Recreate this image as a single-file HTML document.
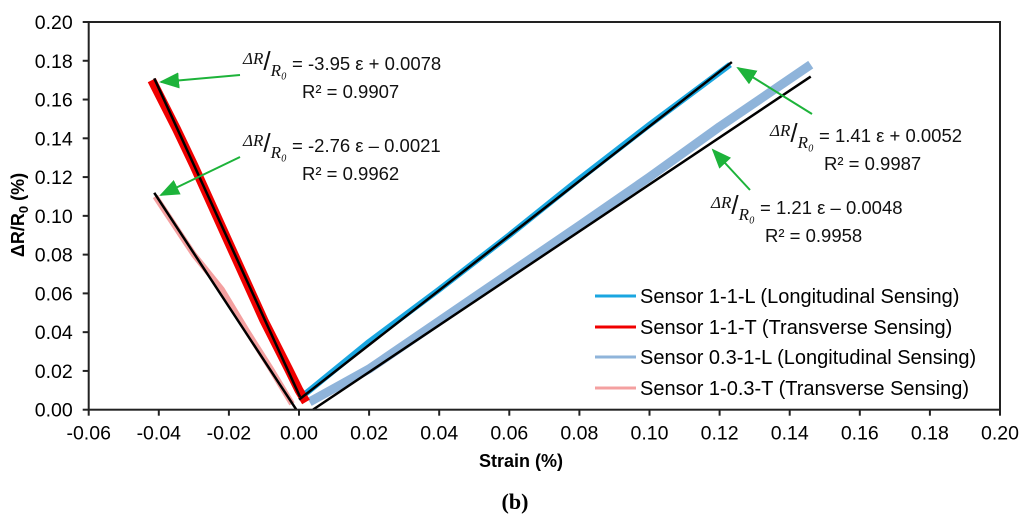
<!DOCTYPE html>
<html><head><meta charset="utf-8"><style>
body{margin:0;background:#fff;}
svg{display:block;font-family:"Liberation Sans",sans-serif;}
</style></head><body>
<svg id="chart" width="1024" height="520">
<defs><marker id="ah" markerWidth="10" markerHeight="8" refX="9" refY="4" orient="auto"><path d="M0,0 L10,4 L0,8 Z" fill="#1db33a"/></marker></defs>
<g id="series"></g>
<g id="fits"></g>
<rect x="88.7" y="22" width="911.3" height="387.7" fill="none" stroke="#222" stroke-width="2"/>
<g id="ticks"></g>
<text x="521" y="467" font-size="18" font-weight="bold" text-anchor="middle">Strain (%)</text>
<text transform="translate(24,215) rotate(-90)" font-size="18" font-weight="bold" text-anchor="middle">ΔR/R<tspan font-size="13" dy="4">0</tspan><tspan dy="-4"> (%)</tspan></text>
<text x="515" y="509" font-size="22" font-weight="bold" text-anchor="middle" font-family="Liberation Serif,serif">(b)</text>
<g font-size="18.5" fill="#111">
<g>
<text x="243" y="70"><tspan font-family="Liberation Serif,serif" font-style="italic" font-size="17" dy="-6">ΔR</tspan><tspan font-size="26" dy="6">/</tspan><tspan font-family="Liberation Serif,serif" font-style="italic" font-size="17" dy="6">R₀</tspan><tspan dy="-6"> = -3.95 ε + 0.0078</tspan></text>
<text x="302" y="98">R² = 0.9907</text></g>
<g>
<text x="243" y="152"><tspan font-family="Liberation Serif,serif" font-style="italic" font-size="17" dy="-6">ΔR</tspan><tspan font-size="26" dy="6">/</tspan><tspan font-family="Liberation Serif,serif" font-style="italic" font-size="17" dy="6">R₀</tspan><tspan dy="-6"> = -2.76 ε – 0.0021</tspan></text>
<text x="302" y="180">R² = 0.9962</text></g>
<g>
<text x="770" y="142"><tspan font-family="Liberation Serif,serif" font-style="italic" font-size="17" dy="-6">ΔR</tspan><tspan font-size="26" dy="6">/</tspan><tspan font-family="Liberation Serif,serif" font-style="italic" font-size="17" dy="6">R₀</tspan><tspan dy="-6"> = 1.41 ε + 0.0052</tspan></text>
<text x="824" y="170">R² = 0.9987</text></g>
<g>
<text x="711" y="214"><tspan font-family="Liberation Serif,serif" font-style="italic" font-size="17" dy="-6">ΔR</tspan><tspan font-size="26" dy="6">/</tspan><tspan font-family="Liberation Serif,serif" font-style="italic" font-size="17" dy="6">R₀</tspan><tspan dy="-6"> = 1.21 ε – 0.0048</tspan></text>
<text x="765" y="242">R² = 0.9958</text></g>
</g>
<g stroke="#1db33a" stroke-width="2" marker-end="url(#ah)">
<line x1="240" y1="75" x2="161" y2="82"/>
<line x1="240" y1="157" x2="161" y2="195"/>
<line x1="812" y1="114" x2="738" y2="68"/>
<line x1="750" y1="190" x2="713" y2="150"/>
</g>
<g id="legend" font-size="20"></g>
</svg>
<script>
const xTicks=[-0.06,-0.04,-0.02,0.00,0.02,0.04,0.06,0.08,0.10,0.12,0.14,0.16,0.18,0.20];
const yTicks=[0,0.02,0.04,0.06,0.08,0.10,0.12,0.14,0.16,0.18,0.20];
const seriesNames=["Sensor 1-1-L (Longitudinal Sensing)","Sensor 1-1-T (Transverse Sensing)","Sensor 0.3-1-L (Longitudinal Sensing)","Sensor 1-0.3-T (Transverse Sensing)"];
const seriesColors=["#1aa6e0","#f00000","#8fb4da","#f4a0a0"];
const s1x=[0.001,0.02,0.04,0.06,0.08,0.10,0.123];
const s1y=[0.007,0.035,0.062,0.090,0.119,0.147,0.178];
const s2x=[-0.042,-0.035,-0.03,-0.02,-0.01,-0.003,0.0,0.002];
const s2y=[0.170,0.145,0.126,0.086,0.046,0.021,0.010,0.004];
const s3x=[0.003,0.02,0.05,0.08,0.10,0.12,0.146];
const s3y=[0.004,0.021,0.058,0.095,0.120,0.146,0.178];
const s4x=[-0.041,-0.03,-0.022,-0.015,-0.008,-0.002];
const s4y=[0.110,0.080,0.062,0.041,0.021,0.003];
const fitSlopes=[1.41,-3.95,1.21,-2.76];
const fitIntercepts=[0.0052,0.0078,-0.0048,-0.0021];
const fitStart=[0.0,-0.0413,0.004,-0.0413];
const fitEnd=[0.1235,0.0003,0.146,-0.0008];
const X0=88.7,X1=1000,Y0=409.7,Y1=22;
const sx=v=>X0+(v+0.06)/0.26*(X1-X0);
const sy=v=>Y0-v/0.2*(Y0-Y1);
const NS="http://www.w3.org/2000/svg";
function mk(t,a,p){const e=document.createElementNS(NS,t);for(const k in a)e.setAttribute(k,a[k]);p.appendChild(e);return e;}
const ticks=document.getElementById('ticks');
xTicks.forEach(v=>{const x=sx(v);
const l=mk('line',{x1:x,x2:x,y1:Y0,y2:Y0+6,stroke:'#222','stroke-width':2},ticks);


const t=mk('text',{x:x,y:Y0+30,'font-size':19.5,'text-anchor':'middle'},ticks);t.textContent=v.toFixed(2);

});
yTicks.forEach(v=>{const y=sy(v);
const l=mk('line',{x1:X0-6,x2:X0,y1:y,y2:y,stroke:'#222','stroke-width':2},ticks);


const t=mk('text',{x:X0-16,y:y+7,'font-size':19.5,'text-anchor':'end'},ticks);t.textContent=v.toFixed(2);

});
const sg=document.getElementById('series');
const data=[[s3x,s3y,2],[s4x,s4y,3],[s1x,s1y,0],[s2x,s2y,1]];
const widths=[6,9,9,6];
data.forEach(([xs,ys,i])=>{
const pts=xs.map((x,j)=>sx(x)+','+sy(ys[j])).join(' ');
const p=mk('polyline',{points:pts,fill:'none',stroke:seriesColors[i],'stroke-width':widths[i],'stroke-linejoin':'round'},sg);

});
const fg=document.getElementById('fits');
fitSlopes.forEach((m,i)=>{const a=fitStart[i],b=fitEnd[i];
const l=mk('line',{x1:sx(a),y1:sy(m*a+fitIntercepts[i]),x2:sx(b),y2:sy(m*b+fitIntercepts[i]),stroke:'#000','stroke-width':2.5},fg);

});
const lg=document.getElementById('legend');
const ly=[296,327,357,388];
seriesNames.forEach((n,i)=>{
const g=mk('g',{},lg);


mk('line',{x1:595,x2:636,y1:ly[i],y2:ly[i],stroke:seriesColors[i],'stroke-width':3},g);
const t=mk('text',{x:640,y:ly[i]+7},g);t.textContent=n;});
</script>
</body></html>
